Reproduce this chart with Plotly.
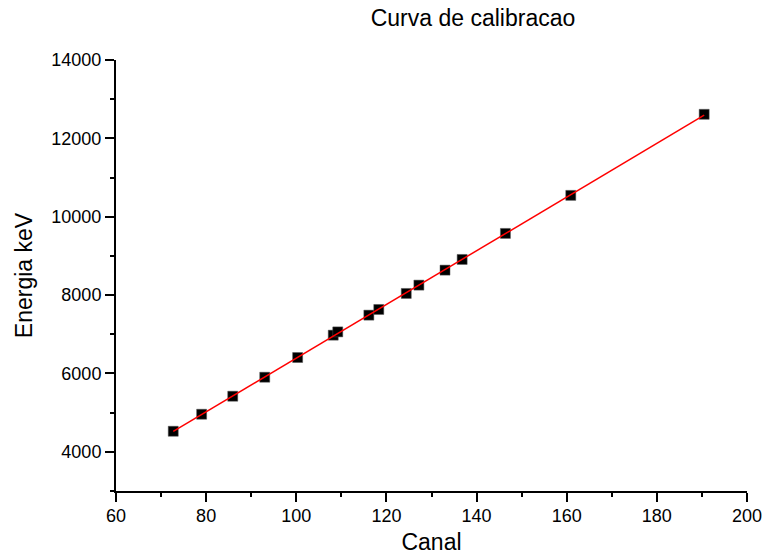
import numpy as np
import plotly.graph_objects as go

# Calibration points: channel vs. energy (keV)
canal = [72.7, 79.0, 85.9, 93.0, 100.3, 108.2, 109.2, 116.1, 118.3,
         124.4, 127.2, 133.0, 136.8, 146.4, 160.9, 190.5]
energia = [4525, 4959, 5419, 5904, 6407, 6977, 7061, 7488, 7633,
           8042, 8254, 8637, 8910, 9574, 10545, 12614]

x_ticks = [60, 80, 100, 120, 140, 160, 180, 200]
y_ticks = [4000, 6000, 8000, 10000, 12000, 14000]

# Linear calibration fit
slope, intercept = np.polyfit(canal, energia, 1)
fit_x = np.array([min(canal), max(canal)])
fit_y = slope * fit_x + intercept

fig = go.Figure()
fig.add_trace(go.Scatter(
    x=canal, y=energia, mode="markers",
    marker=dict(symbol="square", size=10, color="black",
                line=dict(color="#555555", width=0.5)),
    showlegend=False,
))
fig.add_trace(go.Scatter(
    x=fit_x, y=fit_y, mode="lines",
    line=dict(color="red", width=1.5),
    showlegend=False,
))

font = "Liberation Sans, Arial, sans-serif"
axis_common = dict(
    showgrid=False, zeroline=False, automargin=False,
    showline=True, linecolor="black", linewidth=2,
    ticks="outside", ticklen=9, tickwidth=1.5, tickcolor="black",
    tickfont=dict(family=font, size=18, color="black"),
    mirror=False,
)

fig.update_layout(
    width=763, height=555,
    margin=dict(l=116, r=16, t=60, b=64),
    paper_bgcolor="white", plot_bgcolor="white",
    title=dict(text="Curva de calibracao", x=473 / 763, xanchor="center",
               y=1 - 18 / 555, yanchor="middle", automargin=False,
               font=dict(family=font, size=23, color="black")),
    xaxis=dict(
        range=[60, 200], tickvals=x_ticks, ticktext=[str(v) for v in x_ticks],
        ticklabelstandoff=-2,
        minor=dict(ticks="outside", ticklen=4, tickwidth=1.5,
                   tickcolor="black", dtick=10, tick0=60),
        title=dict(text="Canal", font=dict(family=font, size=23, color="black"),
                   standoff=16),
        **axis_common,
    ),
    yaxis=dict(
        range=[3000, 14000], tickvals=y_ticks, ticktext=[str(v) for v in y_ticks],
        minor=dict(ticks="outside", ticklen=4, tickwidth=1.5,
                   tickcolor="black", dtick=1000, tick0=3000),
        title=dict(text="Energia keV", font=dict(family=font, size=23, color="black"),
                   standoff=12),
        **axis_common,
    ),
)

fig.write_html("out.html")
